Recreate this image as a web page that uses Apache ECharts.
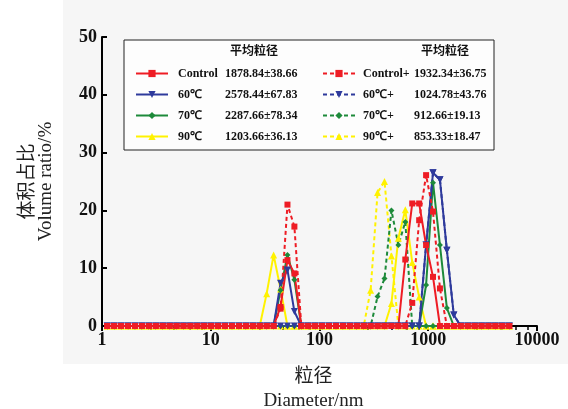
<!DOCTYPE html>
<html>
<head>
<meta charset="utf-8">
<script src="https://cdn.jsdelivr.net/npm/echarts@6/dist/echarts.min.js"></script>
<style>
  html, body { margin: 0; padding: 0; background: #fff; }
  #chart { width: 568px; height: 409px; }
</style>
</head>
<body>
<div id="chart"></div>
<script>
// particle size classes (nm)
const sizes = [
  1.117, 1.294, 1.499, 1.736, 2.010, 2.328, 2.696, 3.122, 3.615, 4.187,
  4.849, 5.615, 6.503, 7.531, 8.721, 10.10, 11.70, 13.54, 15.69, 18.17,
  21.04, 24.36, 28.21, 32.67, 37.84, 43.82, 50.75, 58.77, 68.06, 78.82,
  91.28, 105.7, 122.4, 141.8, 164.2, 190.1, 220.2, 255.0, 295.3, 342.0,
  396.1, 458.7, 531.2, 615.1, 712.4, 825.0, 955.4, 1106, 1281, 1484,
  1718, 1990, 2305, 2669, 3091, 3580, 4145, 4801, 5560
];

// volume ratio (%) per size class
const control = [
  0, 0, 0, 0, 0, 0, 0, 0, 0, 0,
  0, 0, 0, 0, 0, 0, 0, 0, 0, 0,
  0, 0, 0, 0, 0, 3.3, 11.4, 9.1, 0, 0,
  0, 0, 0, 0, 0, 0, 0, 0, 0, 0,
  0, 0, 0, 11.5, 21.2, 21.2, 14.0, 8.5, 0, 0,
  0, 0, 0, 0, 0, 0, 0, 0, 0
];
const controlPlus = [
  0, 0, 0, 0, 0, 0, 0, 0, 0, 0,
  0, 0, 0, 0, 0, 0, 0, 0, 0, 0,
  0, 0, 0, 0, 0, 3.0, 21.0, 17.2, 0, 0,
  0, 0, 0, 0, 0, 0, 0, 0, 0, 0,
  0, 0, 0, 0, 4.0, 18.3, 26.1, 19.8, 6.5, 0,
  0, 0, 0, 0, 0, 0, 0, 0, 0
];
const t60 = [
  0, 0, 0, 0, 0, 0, 0, 0, 0, 0,
  0, 0, 0, 0, 0, 0, 0, 0, 0, 0,
  0, 0, 0, 0, 0, 7.4, 9.7, 2.5, 0, 0,
  0, 0, 0, 0, 0, 0, 0, 0, 0, 0,
  0, 0, 0, 0, 0, 0, 14.0, 26.5, 25.3, 13.1,
  1.9, 0, 0, 0, 0, 0, 0, 0, 0
];
const t60Plus = [
  0, 0, 0, 0, 0, 0, 0, 0, 0, 0,
  0, 0, 0, 0, 0, 0, 0, 0, 0, 0,
  0, 0, 0, 0, 0, 0, 0, 0, 0, 0,
  0, 0, 0, 0, 0, 0, 0, 0, 0, 0,
  0, 0, 0, 0, 0, 0, 14.0, 26.5, 25.3, 13.1,
  1.9, 0, 0, 0, 0, 0, 0, 0, 0
];
const t70 = [
  0, 0, 0, 0, 0, 0, 0, 0, 0, 0,
  0, 0, 0, 0, 0, 0, 0, 0, 0, 0,
  0, 0, 0, 0, 0, 6.2, 12.3, 8.0, 0, 0,
  0, 0, 0, 0, 0, 0, 0, 0, 0, 0,
  0, 0, 0, 0, 0, 0, 7.1, 24.8, 14.0, 3.1,
  0, 0, 0, 0, 0, 0, 0, 0, 0
];
const t70Plus = [
  0, 0, 0, 0, 0, 0, 0, 0, 0, 0,
  0, 0, 0, 0, 0, 0, 0, 0, 0, 0,
  0, 0, 0, 0, 0, 0, 0, 0, 0, 0,
  0, 0, 0, 0, 0, 0, 0, 0, 0, 5.1,
  8.2, 20.0, 14.0, 18.0, 0, 0, 0, 0, 0, 0,
  0, 0, 0, 0, 0, 0, 0, 0, 0
];
const t90 = [
  0, 0, 0, 0, 0, 0, 0, 0, 0, 0,
  0, 0, 0, 0, 0, 0, 0, 0, 0, 0,
  0, 0, 0, 5.6, 12.3, 6.4, 0, 0, 0, 0,
  0, 0, 0, 0, 0, 0, 0, 0, 0, 0,
  0, 3.9, 15.2, 20.1, 11.0, 5.0, 0, 0, 0, 0,
  0, 0, 0, 0, 0, 0, 0, 0, 0
];
const t90Plus = [
  0, 0, 0, 0, 0, 0, 0, 0, 0, 0,
  0, 0, 0, 0, 0, 0, 0, 0, 0, 0,
  0, 0, 0, 0, 0, 0, 0, 0, 0, 0,
  0, 0, 0, 0, 0, 0, 0, 0, 6.2, 23.1,
  25.0, 12.1, 0, 0, 0, 0, 0, 0, 0, 0,
  0, 0, 0, 0, 0, 0, 0, 0, 0
];

const solidNames = ['Control', '60℃', '70℃', '90℃'];
const solidMeans = ['1878.84±38.66', '2578.44±67.83', '2287.66±78.34', '1203.66±36.13'];
const dashNames = ['Control+', '60℃+', '70℃+', '90℃+'];
const dashMeans = ['1932.34±36.75', '1024.78±43.76', '912.66±19.13', '853.33±18.47'];

const xTicks = [1, 10, 100, 1000, 10000];

const RED = '#ee1c24';
const BLUE = '#2e3a9c';
const GREEN = '#1d8a3a';
const YELLOW = '#fff200';
const SERIF = '"Liberation Serif", "Times New Roman", serif';
const CJK = '"Noto Sans CJK SC", sans-serif';

function pairs(values) {
  return sizes.map((s, i) => [s, values[i]]);
}

function mkSeries(name, values, color, symbol, dashed, opts) {
  return Object.assign({
    name: name,
    type: 'line',
    data: pairs(values),
    symbol: symbol,
    symbolSize: 7,
    itemStyle: { color: color },
    lineStyle: { color: color, width: 2, type: dashed ? [4, 3] : 'solid' },
    emphasis: { disabled: true },
  }, opts || {});
}

const chart = echarts.init(document.getElementById('chart'), null, { renderer: 'canvas' });

function legendCfg(names, means, left, labelW, pad) {
  return {
    orient: 'vertical',
    left: left,
    top: 58,
    itemWidth: 32,
    itemHeight: 9,
    itemGap: 0,
    data: names,
    formatter: name => `{n|${name}}{v|${means[names.indexOf(name)]}}`,
    textStyle: {
      lineHeight: 21,
      rich: {
        n: { fontFamily: SERIF, fontWeight: 'bold', fontSize: 12, color: '#111', width: labelW, padding: [0, 0, 0, pad], lineHeight: 21 },
        v: { fontFamily: SERIF, fontWeight: 'bold', fontSize: 12, color: '#111', lineHeight: 21 },
      },
    },
  };
}

chart.setOption({
  animation: false,
  backgroundColor: '#fff',
  grid: { left: 102, right: 31, top: 37, bottom: 83, containLabel: false, outerBoundsMode: 'none' },
  graphic: [
    { type: 'rect', z: -10, shape: { x: 63, y: 0, width: 505, height: 364 }, style: { fill: '#f6f6f6' } },
    { type: 'rect', z: 0, shape: { x: 124, y: 40, width: 370, height: 110 }, style: { fill: '#fdfdfd', stroke: '#222', lineWidth: 1 } },
    { type: 'text', z: 1, left: 230, top: 44, style: { text: '平均粒径', font: 'bold 12px "Noto Sans CJK SC"', fill: '#111' } },
    { type: 'text', z: 1, left: 421, top: 44, style: { text: '平均粒径', font: 'bold 12px "Noto Sans CJK SC"', fill: '#111' } },
  ],
  legend: [
    legendCfg(solidNames, solidMeans, 130, 47, 5),
    legendCfg(dashNames, dashMeans, 317, 51, 3),
  ],
  xAxis: {
    type: 'log',
    logBase: 10,
    min: xTicks[0],
    max: xTicks[xTicks.length - 1],
    name: '{c|粒径}\n{e|Diameter/nm}',
    nameLocation: 'middle',
    nameGap: 36,
    nameTextStyle: {
      padding: [0, 12, 0, 0],
      rich: {
        c: { fontFamily: CJK, fontSize: 19, color: '#222', lineHeight: 26 },
        e: { fontFamily: SERIF, fontSize: 19, color: '#222', lineHeight: 26 },
      },
    },
    axisLine: { lineStyle: { color: '#000', width: 2 } },
    axisTick: { show: true, length: 5, lineStyle: { color: '#000', width: 2 } },
    minorTick: { show: true, splitNumber: 5, length: 4, lineStyle: { color: '#000', width: 1.5 } },
    splitLine: { show: false },
    axisLabel: {
      fontFamily: SERIF, fontWeight: 'bold', fontSize: 18, color: '#111', margin: 5,
      formatter: v => String(Math.round(v)),
    },
  },
  yAxis: {
    type: 'value',
    min: 0,
    max: 50,
    interval: 10,
    name: '{c|体积占比}\n{e|Volume ratio/%}',
    nameLocation: 'middle',
    nameGap: 45,
    nameRotate: 90,
    nameTextStyle: {
      rich: {
        c: { fontFamily: CJK, fontSize: 19, color: '#222', lineHeight: 21 },
        e: { fontFamily: SERIF, fontSize: 19, color: '#222', lineHeight: 21 },
      },
    },
    axisLine: { show: true, lineStyle: { color: '#000', width: 2 } },
    axisTick: { show: true, inside: true, length: 5, lineStyle: { color: '#000', width: 2 } },
    splitLine: { show: false },
    axisLabel: { fontFamily: SERIF, fontWeight: 'bold', fontSize: 18, color: '#111', margin: 5 },
  },
  series: [
    mkSeries('90℃+', t90Plus, YELLOW, 'triangle', true),
    mkSeries('90℃', t90, YELLOW, 'triangle', false),
    mkSeries('70℃+', t70Plus, GREEN, 'diamond', true, { symbolSize: 6 }),
    mkSeries('70℃', t70, GREEN, 'diamond', false, { symbolSize: 6 }),
    mkSeries('60℃+', t60Plus, BLUE, 'triangle', true, { symbolRotate: 180 }),
    mkSeries('60℃', t60, BLUE, 'triangle', false, { symbolRotate: 180 }),
    mkSeries('Control', control, RED, 'rect', false, { symbolSize: 6 }),
    mkSeries('Control+', controlPlus, RED, 'rect', true, { symbolSize: 6 }),
  ],
});
</script>
</body>
</html>
